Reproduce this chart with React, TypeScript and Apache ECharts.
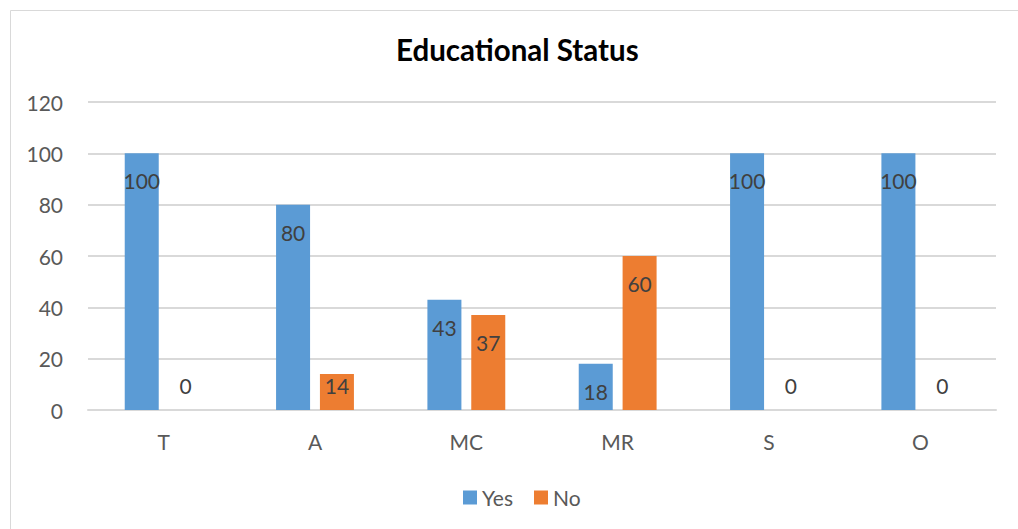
import React, { useEffect, useRef } from "react";
import * as echarts from "echarts";

const categories = ["T", "A", "MC", "MR", "S", "O"];
const yesValues = [100, 80, 43, 18, 100, 100];
const noValues = [0, 14, 37, 60, 0, 0];
const yTicks = { min: 0, max: 120, interval: 20 };

const FONT = "Lato, 'Open Sans', sans-serif";
const TEXT = "#404040";

// Zero bars carry their label just above the baseline; short bars keep it
// tight to the top edge so it stays inside the bar.
function toData(values: number[]) {
  return values.map((v) => {
    if (v === 0) return { value: v, label: { position: "top", distance: 14 } };
    if (v < 16) return { value: v, label: { distance: 1 } };
    return { value: v };
  });
}

export default function App() {
  const ref = useRef<HTMLDivElement>(null);

  useEffect(() => {
    if (!ref.current) return;
    const chart = echarts.init(ref.current, null, { renderer: "svg" });
    const barLabel = {
      show: true,
      position: "insideTop",
      distance: 17,
      color: TEXT,
      fontFamily: FONT,
      fontSize: 21,
    };
    chart.setOption({
      animation: false,
      backgroundColor: "#ffffff",
      graphic: [
        {
          type: "rect",
          shape: { x: 10.5, y: 10.5, width: 1020, height: 530 },
          style: { fill: "none", stroke: "#D9D9D9", lineWidth: 1 },
          silent: true,
        },
      ],
      title: {
        text: "Educational Status",
        left: 391,
        top: 29,
        textStyle: {
          fontFamily: FONT,
          fontWeight: "bold",
          fontSize: 29.5,
          color: "#000000",
        },
      },
      legend: {
        data: ["Yes", "No"],
        top: 482,
        left: 458,
        icon: "rect",
        itemWidth: 14,
        itemHeight: 14,
        itemGap: 21,
        textStyle: { fontFamily: FONT, fontSize: 21, color: "#595959" },
      },
      grid: { left: 88, right: 22, top: 102, bottom: 119, containLabel: false },
      xAxis: {
        type: "category",
        data: categories,
        axisLine: { lineStyle: { color: "#D9D9D9", width: 2 } },
        axisTick: { show: false },
        axisLabel: {
          color: "#595959",
          fontFamily: FONT,
          fontSize: 21,
          margin: 21,
        },
      },
      yAxis: {
        type: "value",
        min: yTicks.min,
        max: yTicks.max,
        interval: yTicks.interval,
        axisLine: { show: false },
        axisTick: { show: false },
        axisLabel: {
          color: "#595959",
          fontFamily: FONT,
          fontSize: 21,
          margin: 25,
        },
        splitLine: { lineStyle: { color: "#D9D9D9", width: 2 } },
      },
      series: [
        {
          name: "Yes",
          type: "bar",
          data: toData(yesValues),
          barWidth: 34,
          barGap: "29%",
          itemStyle: { color: "#5B9BD5" },
          label: barLabel,
        },
        {
          name: "No",
          type: "bar",
          data: toData(noValues),
          barWidth: 34,
          barGap: "29%",
          itemStyle: { color: "#ED7D31" },
          label: barLabel,
        },
      ],
    });
    return () => chart.dispose();
  }, []);

  return (
    <div
      ref={ref}
      style={{ position: "fixed", left: 0, top: 0, width: 1018, height: 529 }}
    />
  );
}
